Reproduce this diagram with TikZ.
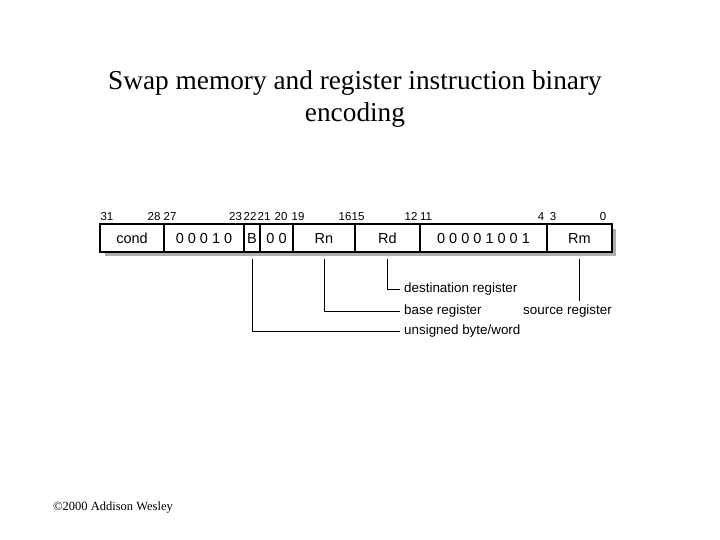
\documentclass[tikz,border=0pt]{standalone}
\usepackage{fontspec}
\setmainfont{Liberation Serif}
\newfontfamily\armfont{Liberation Sans}
\usetikzlibrary{positioning}

\tikzset{
  field/.style={draw, fill=white, line width=1.2pt, minimum height=28pt, inner sep=0pt,
                text height=10.4pt, text depth=0pt,
                font=\armfont\fontsize{14.5}{15}\selectfont},
  bitno/.style={inner sep=0pt, text height=8.3pt, text depth=0pt,
                font=\armfont\fontsize{11.5}{12}\selectfont},
  lead/.style={inner sep=4pt, text height=9.6pt, text depth=2.8pt,
               font=\armfont\fontsize{13.4}{14}\selectfont},
  leadline/.style={line width=1pt}
}

\begin{document}
\begin{tikzpicture}[x=1pt, y=-1pt]
  \useasboundingbox (0,0) rectangle (720,540);

  % Title
  \node[align=center, font=\fontsize{27.3}{32}\selectfont] (title) at (355,99)
    {Swap memory and register instruction binary\\encoding};

  % Drop shadow behind the instruction word
  \fill[black!32] (105,229) rectangle (616,256);

  % Fields of the instruction word: left edge / right edge / text / name
  \foreach \l/\r/\t/\n in {100/164/{cond}/fcond, 164/244/{0 0 0 1 0}/fop,
                           244/260/{B}/fB, 260/293/{0 0}/fzero,
                           293/355/{Rn}/fRn, 355/420/{Rd}/fRd,
                           420/547/{0 0 0 0 1 0 0 1}/fcode, 547/612/{Rm}/fRm} {
    \node[field, minimum width=\r pt-\l pt] (\n) at ({(\l+\r)/2},238) {\t};
  }

  % Bit numbers above the fields
  \foreach \x/\b in {107/31, 154/28, 170/27, 235.5/23, 250/22, 264/21, 281/20,
                     298/19, 345/16, 358/15, 411/12, 426/11, 541/4, 553/3, 603/0} {
    \node[bitno] (bit\b) at (\x,216) {\b};
  }

  % Labels for the fields
  \node[lead, anchor=west] (ldest) at (400,289) {destination register};
  \node[lead, anchor=west] (lbase) at (400,311) {base register};
  \node[lead, anchor=west] (lbyte) at (400,331) {unsigned byte/word};
  \node[lead] (lsource) at (567.5,311) {source register};

  % Lead lines from the fields down to their labels
  \draw[leadline] ([yshift=-6pt]fRd.south) |- (ldest.west);
  \draw[leadline] ([yshift=-6pt]fRn.south) |- (lbase.west);
  \draw[leadline] ([yshift=-6pt]fB.south) |- (lbyte.west);
  \draw[leadline] ([yshift=-6pt]fRm.south) -- (fRm.south |- lsource.north);

  % Copyright line
  \node[anchor=base west, inner sep=0pt, font=\fontsize{12.5}{14}\selectfont] (copy)
    at (53,510) {©2000 Addison Wesley};
\end{tikzpicture}
\end{document}
